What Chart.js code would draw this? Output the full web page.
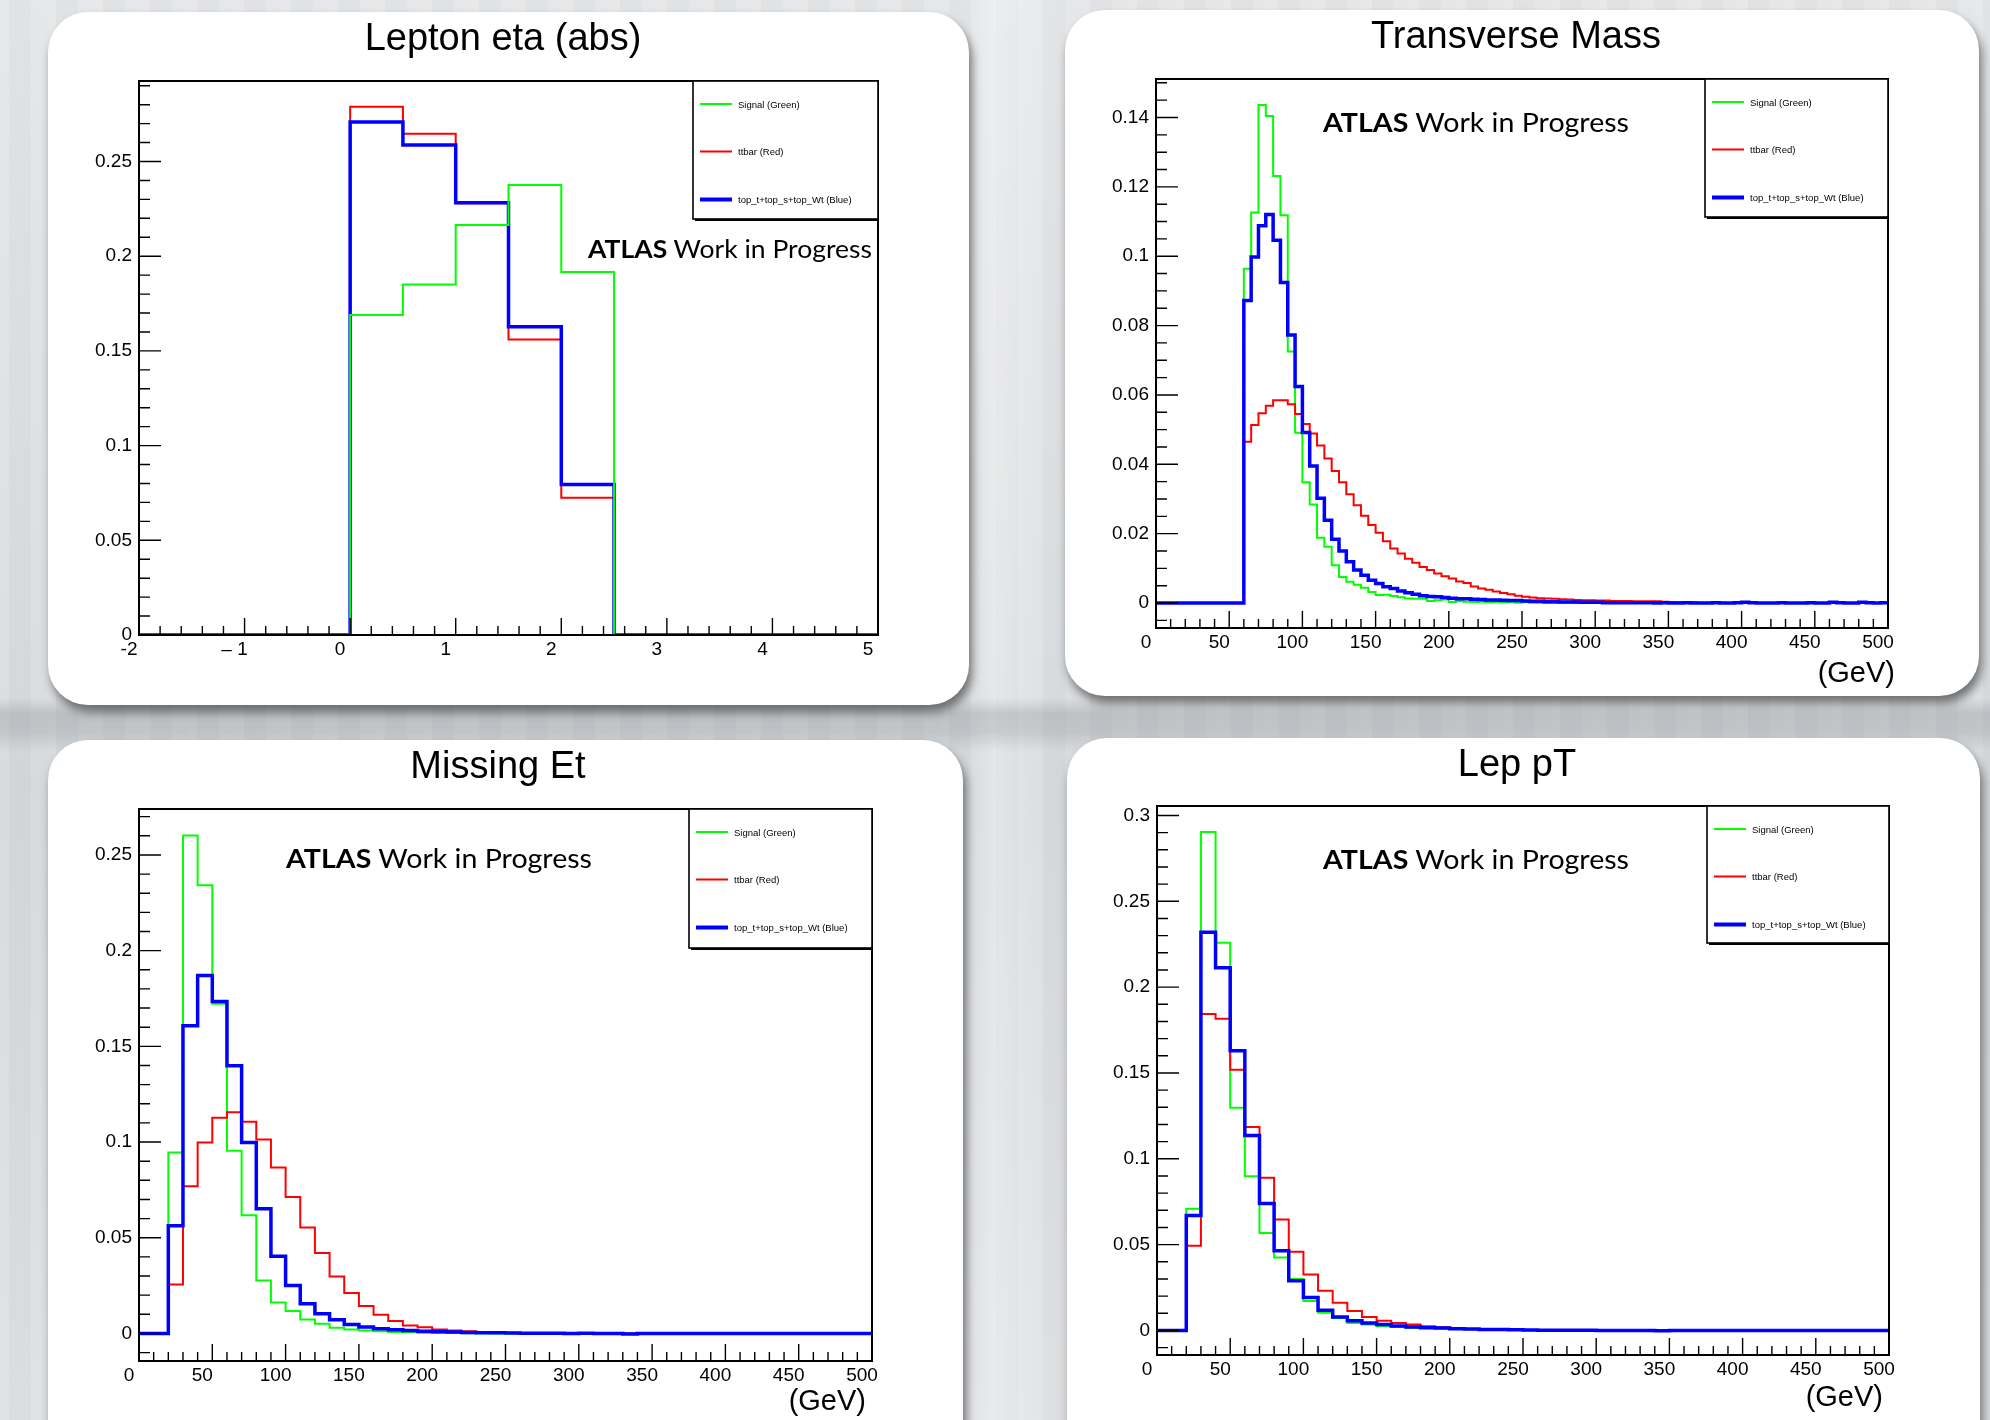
<!DOCTYPE html>
<html><head><meta charset="utf-8">
<script src="https://cdn.jsdelivr.net/npm/chart.js@4.4.1/dist/chart.umd.min.js"></script>
<style>
html,body{margin:0;padding:0;width:1990px;height:1420px;overflow:hidden;}
body{position:relative;
background:
 linear-gradient(180deg, rgba(110,115,120,0) 0, rgba(110,115,120,0) 698px, rgba(110,115,120,0.26) 714px, rgba(110,115,120,0.22) 732px, rgba(110,115,120,0) 752px),
 linear-gradient(90deg, rgba(255,255,255,0) 0, rgba(255,255,255,0) 965px, rgba(255,255,255,0.35) 1000px, rgba(255,255,255,0.1) 1040px, rgba(255,255,255,0) 1070px),
 repeating-linear-gradient(90deg, rgba(255,255,255,0.08) 0 9px, rgba(0,0,0,0.015) 9px 31px, rgba(255,255,255,0.05) 31px 47px),
 linear-gradient(180deg, #e4e6e8 0%, #d9dcdf 48%, #d5d8db 55%, #dee0e3 100%);}
.card{position:absolute;background:#fff;border-radius:40px;box-shadow:3px 7px 10px rgba(40,40,40,0.6);}
canvas{position:absolute;}
#ov{position:absolute;left:0;top:0;}
</style></head><body>
<div class="card" style="left:48px;top:12px;width:921px;height:693px"></div>
<div class="card" style="left:1065px;top:10px;width:914px;height:686px"></div>
<div class="card" style="left:48px;top:740px;width:915px;height:760px"></div>
<div class="card" style="left:1067px;top:738px;width:913px;height:760px"></div>
<canvas id="c1"></canvas>
<canvas id="c2"></canvas>
<canvas id="c3"></canvas>
<canvas id="c4"></canvas>
<svg id="ov" width="1990" height="1420" xmlns="http://www.w3.org/2000/svg"></svg>
<script>
// ---------------- DATA ----------------
const seriesNames = ['Signal (Green)', 'ttbar (Red)', 'top_t+top_s+top_Wt (Blue)'];
const seriesColors = ['#00ff00', '#ff0000', '#0000ff'];

// Lepton eta (abs): 14 bins of 0.5 from -2 to 5
const etaSignal = [0,0,0,0,0.169,0.185,0.2165,0.2376,0.1916,0,0,0,0,0];
const etaTtbar  = [0,0,0,0,0.2789,0.2646,0.228,0.156,0.0725,0,0,0,0,0];
const etaTop    = [0,0,0,0,0.2709,0.2587,0.2282,0.1627,0.0795,0,0,0,0,0];
const etaXTicks = [-2,-1,0,1,2,3,4,5];
const etaXLabels = ['-2','\u2013 1','0','1','2','3','4','5'];
const etaYTicks = [0,0.05,0.1,0.15,0.2,0.25];
const etaYLabels = ['0','0.05','0.1','0.15','0.2','0.25'];

// Transverse mass: 100 bins of 5 GeV from 0 to 500
const mtSignal = [0,0,0,0,0,0,0,0,0,0,0,0,
 0.0964,0.1126,0.1436,0.1404,0.1231,0.1118,0.0725,0.0491,
 0.0348,0.0284,0.0188,0.0162,0.0109,0.0075,0.0061,0.0053,0.0044,0.0032,
 0.0023,0.0024,0.0020,0.0017,0.0013,0.0012,0.0012,0.0006,0.0008,0.0010,
 0.0003,0.0006,0.0004,0.0003,0.0004,0.0002,0.0003,0.0002,0.0002,0.0001,
 0.0002,0.0001,0.0001,0,0.0001,0,0.0001,0,0,0.0001,
 0,0,0,0,0,0,0,0,0,0, 0,0,0,0,0,0,0,0,0,0,
 0,0,0,0,0,0,0,0,0,0, 0,0,0,0,0,0,0,0,0,0];
const mtTtbar = [0,0,0,0,0,0,0,0,0,0,0,0,
 0.0465,0.0513,0.0547,0.0569,0.0585,0.0585,0.0573,0.0545,
 0.0516,0.0489,0.0454,0.0417,0.0381,0.0348,0.0314,0.0282,0.0252,0.0225,
 0.0203,0.0178,0.0157,0.0143,0.0128,0.0116,0.0104,0.0095,0.0085,0.0077,
 0.0071,0.0062,0.0058,0.0048,0.0042,0.0038,0.0033,0.0029,0.0025,0.0021,
 0.0018,0.0016,0.0014,0.0013,0.0012,0.0011,0.0010,0.0009,0.0008,0.0008,
 0.0007,0.0007,0.0006,0.0006,0.0006,0.0005,0.0005,0.0005,0.0005,0.0004,
 0.0003,0.0002,0.0002,0.0002,0.0001,0.0001,0.0001,0.0001,0,0.0001,
 0,0,0,0,0,0,0,0,0,0, 0,0,0,0,0,0,0,0,0,0];
const mtTop = [0,0,0,0,0,0,0,0,0,0,0,0,
 0.0872,0.0998,0.1088,0.1120,0.1046,0.0924,0.0773,0.0624,
 0.0492,0.0395,0.0302,0.0239,0.0184,0.0150,0.0119,0.0095,0.0080,0.0066,
 0.0056,0.0047,0.0042,0.0035,0.0030,0.0025,0.0021,0.0019,0.0018,0.0016,
 0.0014,0.0012,0.0012,0.0011,0.0010,0.0009,0.0009,0.0008,0.0007,0.0007,
 0.0006,0.0005,0.0005,0.0004,0.0004,0.0003,0.0003,0.0003,0.0002,0.0002,
 0.0002,0.0001,0.0001,0.0001,0.0001,0.0001,0.0001,0.0001,0,0.0001,
 0,0,0.0001,0,0,0,0.0001,0,0,0.0001,
 0.0002,0.0001,0,0,0,0.0001,0,0,0,0.0001,
 0,0,0.0002,0.0001,0,0,0.0002,0.0001,0,0.0001];
const gevXTicks = [0,50,100,150,200,250,300,350,400,450,500];
const gevXLabels = ['0','50','100','150','200','250','300','350','400','450','500'];
const mtYTicks = [0,0.02,0.04,0.06,0.08,0.1,0.12,0.14];
const mtYLabels = ['0','0.02','0.04','0.06','0.08','0.1','0.12','0.14'];

// Missing Et: 50 bins of 10 GeV from 0 to 500
const metSignal = [0,0,
 0.0945,0.2602,0.2341,0.1722,0.0954,0.0617,0.0277,0.0161,0.0117,0.0073,
 0.0051,0.0030,0.0021,0.0016,0.0012,0.0008,0.0006,0.0004,0.0003,0.0002,
 0.0001,0.0001,0,0,0,0,0,0,0,0,
 0,0,0,0,0,0,0,0,0,0, 0,0,0,0,0,0,0,0];
const metTtbar = [0,0,
 0.0256,0.0769,0.0998,0.1127,0.1155,0.1106,0.1013,0.0867,0.0713,0.0553,
 0.0420,0.0298,0.0211,0.0143,0.0098,0.0065,0.0042,0.0032,0.0021,0.0015,
 0.0011,0.0008,0.0005,0.0003,0.0002,0.0001,0,0,0,0,
 0,0,0,0,0,0,0,0,0,0, 0,0,0,0,0,0,0,0];
const metTop = [0,0,
 0.0562,0.1607,0.1870,0.1734,0.1399,0.0998,0.0652,0.0403,0.0251,0.0155,
 0.0103,0.0072,0.0047,0.0033,0.0024,0.0019,0.0016,0.0012,0.0009,0.0007,
 0.0005,0.0004,0.0003,0.0002,0.0001,0.0001,0.0001,0,0.0001,0,
 0,-0.0003,0,0,0,0,0,0,0,0, 0,0,0,0,0,0,0,0];
const metYTicks = [0,0.05,0.1,0.15,0.2,0.25];
const metYLabels = ['0','0.05','0.1','0.15','0.2','0.25'];

// Lep pT: 50 bins of 10 GeV from 0 to 500
const lepSignal = [0,0,
 0.0709,0.2903,0.2259,0.1297,0.0898,0.0567,0.0425,0.0300,0.0172,0.0103,
 0.0073,0.0043,0.0034,0.0024,0.0020,0.0016,0.0014,0.0011,0.0009,0.0007,
 0.0005,0.0004,0.0003,0.0002,0.0001,0.0001,0,0,0,0,
 0,0,0,0,0,0,0,0,0,0, 0,0,0,0,0,0,0,0];
const lepTtbar = [0,0,
 0.0494,0.1844,0.1815,0.1519,0.1185,0.0889,0.0646,0.0458,0.0326,0.0231,
 0.0162,0.0113,0.0079,0.0057,0.0043,0.0034,0.0024,0.0018,0.0012,0.0008,
 0.0005,0.0003,0.0002,0.0001,0,0,0,0,0,0,
 0,0,0,0,0,0,0,0,0,0, 0,0,0,0,0,0,0,0];
const lepTop = [0,0,
 0.0669,0.2320,0.2113,0.1629,0.1135,0.0739,0.0464,0.0290,0.0192,0.0117,
 0.0079,0.0057,0.0043,0.0034,0.0026,0.0020,0.0016,0.0014,0.0010,0.0008,
 0.0006,0.0005,0.0004,0.0002,0.0001,0.0001,0.0001,0.0001,0,0,
 0,0,-0.0002,0,0,0,0,0,0,0, 0,0,0,0,0,0,0,0];
const lepYTicks = [0,0.05,0.1,0.15,0.2,0.25,0.3];
const lepYLabels = ['0','0.05','0.1','0.15','0.2','0.25','0.3'];

const panelTitles = ['Lepton eta (abs)', 'Transverse Mass', 'Missing Et', 'Lep pT'];
const unitLabel = '(GeV)';
const stampBold = 'ATLAS';
const stampText = ' Work in Progress';

// ---------------- LAYOUT / CONFIG ----------------
const panels = [
 {id:'c1', frame:{l:139,t:81,r:878,b:635}, xmin:-2, xmax:5, ymin:0, ymax:0.2925, binLow:-2, binW:0.5,
  series:[etaSignal, etaTtbar, etaTop], order:[0,2,1], xTicks:etaXTicks, xLabels:etaXLabels, yTicks:etaYTicks, yLabels:etaYLabels,
  xMinor:0.2, xMajor:1, yMinor:0.01, yMajor:0.05,
  title:{x:503, y:50}, stamp:{x:588, y:258, len:284, size:25.5}, legend:{x:693, y:81, w:185, h:138}, unit:null},
 {id:'c2', frame:{l:1156,t:79,r:1888,b:628}, xmin:0, xmax:500, ymin:-0.0072, ymax:0.1511, binLow:0, binW:5,
  series:[mtSignal, mtTtbar, mtTop], order:[2,1,0], xTicks:gevXTicks, xLabels:gevXLabels, yTicks:mtYTicks, yLabels:mtYLabels,
  xMinor:10, xMajor:50, yMinor:0.005, yMajor:0.02,
  title:{x:1516, y:48}, stamp:{x:1323, y:132, len:306, size:27.5}, legend:{x:1705, y:79, w:183, h:138}, unit:{x:1895, y:682}},
 {id:'c3', frame:{l:139,t:809,r:872,b:1361}, xmin:0, xmax:500, ymin:-0.0144, ymax:0.274, binLow:0, binW:10,
  series:[metSignal, metTtbar, metTop], order:[2,1,0], xTicks:gevXTicks, xLabels:gevXLabels, yTicks:metYTicks, yLabels:metYLabels,
  xMinor:10, xMajor:50, yMinor:0.01, yMajor:0.05,
  title:{x:498, y:778}, stamp:{x:286, y:868, len:306, size:27.5}, legend:{x:689, y:809, w:183, h:139}, unit:{x:866, y:1410}},
 {id:'c4', frame:{l:1157,t:806,r:1889,b:1355}, xmin:0, xmax:500, ymin:-0.0143, ymax:0.3055, binLow:0, binW:10,
  series:[lepSignal, lepTtbar, lepTop], order:[2,1,0], xTicks:gevXTicks, xLabels:gevXLabels, yTicks:lepYTicks, yLabels:lepYLabels,
  xMinor:10, xMajor:50, yMinor:0.01, yMajor:0.05,
  title:{x:1517, y:776}, stamp:{x:1323, y:869, len:306, size:27.5}, legend:{x:1707, y:806, w:182, h:137}, unit:{x:1883, y:1406}}
];

const lineWidths = [2, 2, 3.5];

const rootFrame = {
  id: 'rootFrame',
  afterDatasetsDraw(chart, args, opt) {
    const {ctx, chartArea: a, scales: {x, y}} = chart;
    ctx.save();
    ctx.strokeStyle = '#000';
    ctx.lineWidth = 1.4;
    ctx.beginPath();
    const rx = Math.round(opt.xMajor / opt.xMinor);
    const xi0 = Math.ceil(x.min / opt.xMinor - 1e-6), xi1 = Math.floor(x.max / opt.xMinor + 1e-6);
    for (let i = xi0; i <= xi1; i++) {
      const px = x.getPixelForValue(i * opt.xMinor);
      const len = (i % rx === 0) ? 17 : 9;
      ctx.moveTo(px, a.bottom); ctx.lineTo(px, a.bottom - len);
    }
    const ry = Math.round(opt.yMajor / opt.yMinor);
    const yi0 = Math.ceil(y.min / opt.yMinor - 1e-6), yi1 = Math.floor(y.max / opt.yMinor + 1e-6);
    for (let i = yi0; i <= yi1; i++) {
      const py = y.getPixelForValue(i * opt.yMinor);
      const len = (i % ry === 0) ? 22 : 11;
      ctx.moveTo(a.left, py); ctx.lineTo(a.left + len, py);
    }
    ctx.stroke();
    ctx.lineWidth = 2;
    ctx.strokeRect(a.left, a.top, a.right - a.left, a.bottom - a.top);
    ctx.restore();
  }
};

const padL = 80, padT = 24, padR = 36, padB = 50;
const tickFont = {family: "'Liberation Sans', Arial, sans-serif", size: 19};

panels.forEach(p => {
  const cv = document.getElementById(p.id);
  const f = p.frame;
  const W = (f.r - f.l) + padL + padR, H = (f.b - f.t) + padT + padB;
  cv.width = W; cv.height = H;
  cv.style.width = W + 'px'; cv.style.height = H + 'px';
  cv.style.left = (f.l - padL) + 'px'; cv.style.top = (f.t - padT) + 'px';
  const datasets = p.series.map((vals, k) => {
    const pts = vals.map((v, i) => ({x: p.binLow + i * p.binW, y: v}));
    pts.push({x: p.binLow + vals.length * p.binW, y: vals[vals.length - 1]});
    return {label: seriesNames[k], data: pts, borderColor: seriesColors[k], borderWidth: lineWidths[k],
      stepped: 'before', pointRadius: 0, fill: false, tension: 0, order: p.order[k],
      borderJoinStyle: 'miter', borderCapStyle: 'butt'};
  });
  new Chart(cv, {
    type: 'line',
    data: {datasets},
    options: {
      responsive: false, animation: false, events: [],
      layout: {padding: {left: 0, top: padT, right: padR, bottom: 0}},
      plugins: {legend: {display: false}, tooltip: {enabled: false},
        rootFrame: {xMinor: p.xMinor, xMajor: p.xMajor, yMinor: p.yMinor, yMajor: p.yMajor}},
      scales: {
        x: {type: 'linear', min: p.xmin, max: p.xmax,
          afterFit(s) { s.height = padB; },
          afterBuildTicks(s) { s.ticks = p.xTicks.map(v => ({value: v})); },
          ticks: {autoSkip: false, maxRotation: 0, minRotation: 0, color: '#000', font: tickFont, padding: 3, labelOffset: -10,
            callback: (v, i) => p.xLabels[i]},
          grid: {display: false, drawTicks: false}, border: {display: false}},
        y: {type: 'linear', min: p.ymin, max: p.ymax,
          afterFit(s) { s.width = padL; },
          afterBuildTicks(s) { s.ticks = p.yTicks.map(v => ({value: v})); },
          ticks: {autoSkip: false, color: '#000', font: tickFont, padding: 7, labelOffset: 0,
            callback: (v, i) => p.yLabels[i]},
          grid: {display: false, drawTicks: false}, border: {display: false}}
      }
    },
    plugins: [rootFrame]
  });
});

// ---------------- SVG OVERLAY TEXT ----------------
const NS = 'http://www.w3.org/2000/svg';
const ov = document.getElementById('ov');
function el(tag, attrs, text) {
  const e = document.createElementNS(NS, tag);
  for (const k in attrs) e.setAttribute(k, attrs[k]);
  if (text !== undefined) e.textContent = text;
  ov.appendChild(e);
  return e;
}
panels.forEach((p, idx) => {
  el('text', {x: p.title.x, y: p.title.y, 'text-anchor': 'middle', 'font-family': "'Liberation Sans', Arial, sans-serif", 'font-size': 38, fill: '#000'}, panelTitles[idx]);
  const st = el('text', {x: p.stamp.x, y: p.stamp.y, 'font-family': "Lato, 'Open Sans', sans-serif", 'font-size': p.stamp.size, fill: '#000',
    textLength: p.stamp.len, lengthAdjust: 'spacingAndGlyphs'});
  const b = document.createElementNS(NS, 'tspan'); b.setAttribute('font-weight', '700'); b.textContent = stampBold; st.appendChild(b);
  const r = document.createElementNS(NS, 'tspan'); r.textContent = stampText; st.appendChild(r);
  if (p.unit) el('text', {x: p.unit.x, y: p.unit.y, 'text-anchor': 'end', 'font-family': "'Liberation Sans', Arial, sans-serif", 'font-size': 29, fill: '#000'}, unitLabel);
  const L = p.legend;
  el('rect', {x: L.x, y: L.y, width: L.w, height: L.h, fill: '#fff', stroke: '#000', 'stroke-width': 1.6});
  el('line', {x1: L.x + 2, y1: L.y + L.h + 1, x2: L.x + L.w, y2: L.y + L.h + 1, stroke: '#000', 'stroke-width': 2});
  const rows = [23, 70.5, 118.5];
  seriesNames.forEach((nm, k) => {
    const ry = L.y + rows[k];
    el('line', {x1: L.x + 7, y1: ry, x2: L.x + 39, y2: ry, stroke: seriesColors[k], 'stroke-width': k === 2 ? 4 : 2});
    el('text', {x: L.x + 45, y: ry + 3.5, 'font-family': "'Liberation Sans', Arial, sans-serif", 'font-size': 9.5, fill: '#000'}, nm);
  });
});
</script>
</body></html>
